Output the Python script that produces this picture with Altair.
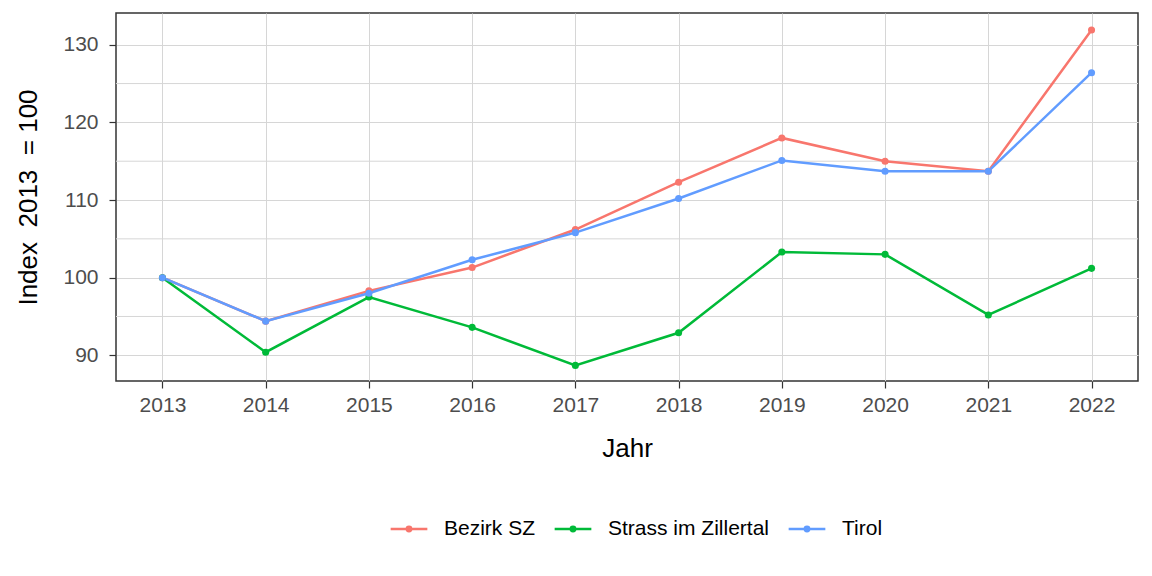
import altair as alt
import pandas as pd

years = [2013, 2014, 2015, 2016, 2017, 2018, 2019, 2020, 2021, 2022]
bezirk = [100, 94.4, 98.3, 101.3, 106.2, 112.3, 118.0, 115.0, 113.7, 131.9]
strass = [100, 90.4, 97.5, 93.6, 88.7, 92.9, 103.3, 103.0, 95.2, 101.2]
tirol = [100, 94.4, 98.0, 102.3, 105.8, 110.2, 115.1, 113.7, 113.7, 126.4]
series_names = ["Bezirk SZ", "Strass im Zillertal", "Tirol"]
series_colors = ["#F8766D", "#00BA38", "#619CFF"]
y_ticks = [90, 100, 110, 120, 130]
y_minor = [95, 105, 115, 125]

rows = []
for name, vals in zip(series_names, [bezirk, strass, tirol]):
    for yr, v in zip(years, vals):
        rows.append({"Jahr": yr, "Index": v, "Gebiet": name})
df = pd.DataFrame(rows)
minor_df = pd.DataFrame({"m": y_minor})

FONT = "Liberation Sans"
xscale = alt.Scale(domain=[2012.55, 2022.45], nice=False, zero=False)
yscale = alt.Scale(domain=[86.69, 134.09], nice=False, zero=False)

color = alt.Color(
    "Gebiet:N",
    scale=alt.Scale(domain=series_names, range=series_colors),
    legend=alt.Legend(
        title=None,
        orient="none",
        direction="horizontal",
        legendX=273,
        legendY=496,
        symbolType="M-1,0H1M-0.12,0A0.12,0.12,0,1,1,0.12,0A0.12,0.12,0,1,1,-0.12,0Z",
        symbolSize=1347,
        symbolStrokeWidth=2.5,
        labelFont=FONT,
        labelFontSize=21,
        labelColor="#000000",
        labelOffset=15,
        labelLimit=0,
        columnPadding=13,
    ),
)

minor = alt.Chart(minor_df).mark_rule(color="#D6D6D6", strokeWidth=1).encode(
    y=alt.Y("m:Q", scale=yscale)
)

x_enc = alt.X(
    "Jahr:Q",
    scale=xscale,
    axis=alt.Axis(
        values=years,
        format="d",
        title="Jahr",
        titleFont=FONT,
        titleFontSize=26,
        titleFontWeight="normal",
        titleColor="#000000",
        titleX=511,
        titleY=75.7,
        titleBaseline="alphabetic",
        labelFont=FONT,
        labelFontSize=21,
        labelColor="#4D4D4D",
        labelBaseline="alphabetic",
        labelPadding=23,
        tickSize=7,
        tickColor="#333333",
        tickWidth=1.2,
        domain=False,
        grid=True,
        gridColor="#D6D6D6",
        gridWidth=1,
    ),
)
y_enc = alt.Y(
    "Index:Q",
    scale=yscale,
    axis=alt.Axis(
        values=y_ticks,
        title="Index\u00a0 2013\u00a0 = 100",
        titleFont=FONT,
        titleFontSize=26,
        titleFontWeight="normal",
        titleColor="#000000",
        titleAngle=270,
        titleX=-80,
        titleY=184,
        titleAlign="center",
        titleBaseline="alphabetic",
        labelFont=FONT,
        labelFontSize=21,
        labelColor="#4D4D4D",
        labelPadding=11,
        tickSize=7,
        tickColor="#333333",
        tickWidth=1.2,
        domain=False,
        grid=True,
        gridColor="#D6D6D6",
        gridWidth=1,
    ),
)

base = alt.Chart(df)
lines = base.mark_line(strokeWidth=2.5).encode(x=x_enc, y=y_enc, color=color, order=alt.Order("Jahr:Q"))
points = base.mark_point(filled=True, size=50, opacity=1, shape="circle").encode(
    x=alt.X("Jahr:Q", scale=xscale), y=alt.Y("Index:Q", scale=yscale), color=color
)

chart = (
    alt.layer(minor, lines, points)
    .properties(
        width=1022,
        height=368,
        autosize=alt.AutoSizeParams(type="none"),
        padding={"left": 116, "top": 13, "right": 14, "bottom": 195},
        background="#FFFFFF",
    )
    .configure_view(stroke="#333333", strokeWidth=1.5)
)

chart.save("out.html", embed_options={"renderer": "svg", "actions": False})
